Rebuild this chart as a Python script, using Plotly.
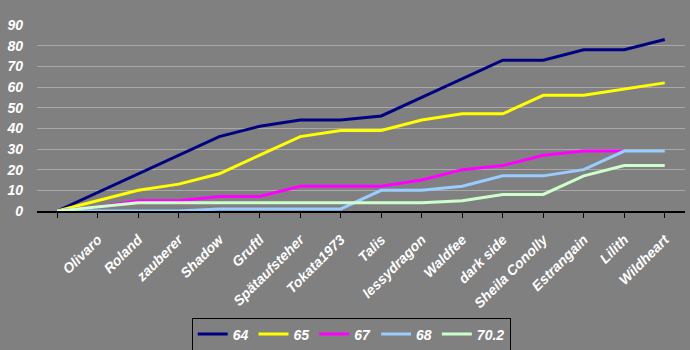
import plotly.graph_objects as go

categories = ["", "Olivaro", "Roland", "zauberer", "Shadow", "Gruftl", "Spätaufsteher",
              "Tokata1973", "Talis", "lessydragon", "Waldfee", "dark side",
              "Sheila Conolly", "Estrangain", "Lilith", "Wildheart"]
series_names = ["64", "65", "67", "68", "70.2"]
s64 = [0, 9, 18, 27, 36, 41, 44, 44, 46, 55, 64, 73, 73, 78, 78, 83]
s65 = [0, 5, 10, 13, 18, 27, 36, 39, 39, 44, 47, 47, 56, 56, 59, 62]
s67 = [0, 2, 5, 5, 7, 7, 12, 12, 12, 15, 20, 22, 27, 29, 29, None]
s68 = [0, 0, 0, 0, 1, 1, 1, 1, 10, 10, 12, 17, 17, 20, 29, 29]
s702 = [0, 2, 4, 4, 4, 4, 4, 4, 4, 4, 5, 8, 8, 17, 22, 22]
y_ticks = [0, 10, 20, 30, 40, 50, 60, 70, 80, 90]

colors = ["#000080", "#FFFF00", "#FF00FF", "#99CCFF", "#CCFFCC"]
all_series = [s64, s65, s67, s68, s702]

FONT = "Liberation Sans, Arial, sans-serif"
BG = "#808080"

fig = go.Figure()
for name, vals, col in zip(series_names, all_series, colors):
    fig.add_trace(go.Scatter(
        x=list(range(len(categories))), y=vals, name=name, mode="lines",
        line=dict(color=col, width=3), connectgaps=False,
    ))

fig.update_layout(
    width=690, height=350,
    margin=dict(l=37, r=5, t=25, b=139, autoexpand=False),
    paper_bgcolor=BG, plot_bgcolor=BG,
    font=dict(family=FONT, color="white", size=13, weight="bold", style="italic"),
    showlegend=True,
    legend=dict(
        orientation="h", xref="container", yref="container",
        x=0.509, xanchor="center", y=1 - 317.5 / 350, yanchor="top",
        bgcolor=BG, bordercolor="black", borderwidth=1,
        font=dict(family=FONT, color="white", size=14, weight="bold", style="italic"),
        itemwidth=30, tracegroupgap=0,
    ),
)

fig.update_xaxes(
    tickmode="array", tickvals=list(range(len(categories))), ticktext=categories,
    range=[-0.5, len(categories) - 0.5],
    tickangle=-45, showgrid=False, zeroline=False, automargin=False,
    showline=True, linecolor="black", linewidth=2,
    ticks="outside", ticklen=5, tickwidth=1, tickcolor="black",
    tickfont=dict(family=FONT, color="white", size=14, weight="bold", style="italic"),
    ticklabelstandoff=8,
)
fig.update_yaxes(
    range=[0, 90], tickvals=y_ticks, showgrid=True, gridcolor="#A8A8A8", gridwidth=1,
    zeroline=False, showline=False, ticks="", automargin=False,
    tickfont=dict(family=FONT, color="white", size=14, weight="bold", style="italic"),
    ticklabelstandoff=13,
)

fig.write_html("out.html")
